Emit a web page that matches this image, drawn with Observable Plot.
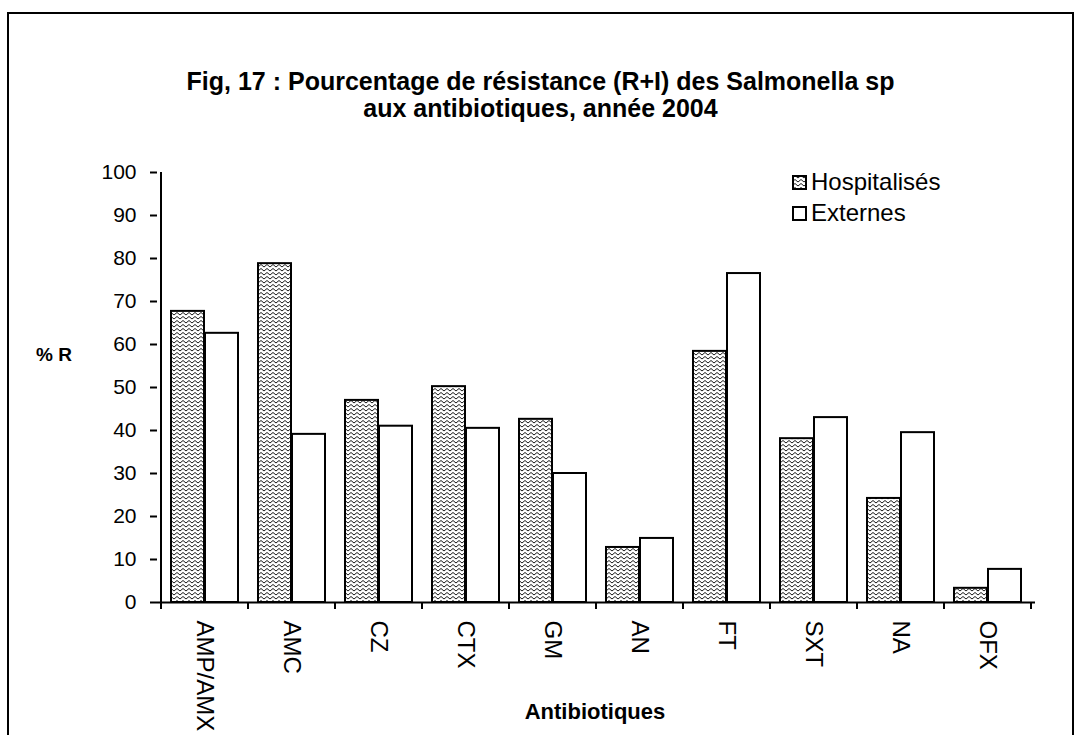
<!DOCTYPE html>
<html><head><meta charset="utf-8">
<script src="https://cdn.jsdelivr.net/npm/d3@7"></script>
<script src="https://cdn.jsdelivr.net/npm/@observablehq/plot@0.6"></script>
<style>
body{margin:0;background:#fff;font-family:"Liberation Sans",Arial,sans-serif;color:#000;}
#wrap{position:relative;width:1081px;height:735px;overflow:hidden;background:#fff;}
#border{position:absolute;left:7px;top:12px;width:1067px;height:760px;border:2px solid #000;box-sizing:border-box;}
#title{position:absolute;left:0;width:1081px;top:68px;text-align:center;font-weight:bold;font-size:25px;line-height:27px;}
#chart{position:absolute;left:0;top:0;}
#ylab{position:absolute;left:36px;top:342px;font-weight:bold;font-size:19px;line-height:26px;}
#xlab{position:absolute;left:0;width:1190px;text-align:center;top:698px;font-weight:bold;font-size:22px;line-height:28px;}
.leg{position:absolute;left:792px;font-size:24px;line-height:28px;height:28px;display:flex;align-items:center;}
.leg svg{margin-right:4px;}
</style></head>
<body>
<svg width="0" height="0" style="position:absolute">
  <defs>
    <pattern id="zig" patternUnits="userSpaceOnUse" width="6" height="4">
      <rect width="6" height="4" fill="#fff"/>
      <path d="M0,3 L3,0.5 L6,3" fill="none" stroke="#000" stroke-width="0.9"/>
    </pattern>
  </defs>
</svg>
<div id="wrap">
  <div id="border"></div>
  <div id="title">Fig, 17 : Pourcentage de résistance (R+I) des Salmonella sp<br>aux antibiotiques, année 2004</div>
  <div id="chart"></div>
  <div id="ylab">% R</div>
  <div id="xlab">Antibiotiques</div>
  <div class="leg" style="top:168px"><svg width="15" height="15"><rect x="1" y="1" width="13" height="13" fill="url(#zig)" stroke="#000" stroke-width="2"/></svg>Hospitalisés</div>
  <div class="leg" style="top:199px"><svg width="15" height="15"><rect x="1" y="1" width="13" height="13" fill="#fff" stroke="#000" stroke-width="2"/></svg>Externes</div>
</div>
<script>
const categories = ["AMP/AMX","AMC","CZ","CTX","GM","AN","FT","SXT","NA","OFX"];
const hospitalises = [67.7, 78.8, 47.0, 50.2, 42.6, 12.8, 58.4, 38.1, 24.2, 3.3];
const externes = [62.6, 39.1, 41.0, 40.5, 30.0, 14.9, 76.5, 43.0, 39.5, 7.7];
const yTicks = [0,10,20,30,40,50,60,70,80,90,100];

const dataH = categories.map((c,i)=>({cat:c, v:hospitalises[i]}));
const dataE = categories.map((c,i)=>({cat:c, v:externes[i]}));

const plot = Plot.plot({
  width: 1081, height: 735,
  marginTop: 172, marginBottom: 133, marginLeft: 157, marginRight: 46,
  style: {fontFamily: '"Liberation Sans", Arial, sans-serif', fontSize: "21px", background: "transparent", color: "#000"},
  x: {domain: categories, padding: 0, label: null},
  y: {domain: [0,100], label: null},
  marks: [
    Plot.barY(dataH, {x:"cat", y:"v", fill:"url(#zig)", stroke:"#000", strokeWidth:2, insetLeft:10, insetRight:44}),
    Plot.barY(dataE, {x:"cat", y:"v", fill:"#fff", stroke:"#000", strokeWidth:2, insetLeft:44, insetRight:10}),
    Plot.ruleY([0], {stroke:"#000", strokeWidth:2}),
    Plot.axisY({ticks: yTicks, tickSize: 7, tickPadding: 14, fontSize: 21, strokeWidth: 2, label: null}),
    Plot.axisX({tickSize: 0, tickRotate: 90, tickPadding: 18, fontSize: 24, label: null})
  ]
});
document.getElementById("chart").appendChild(plot);

// y axis line and category boundary ticks, from the plot's scales
const xs = plot.scale("x"), ys = plot.scale("y");
const svg = d3.select(plot);
const y0 = ys.apply(0), y100 = ys.apply(100);
const bounds = categories.map(c => xs.apply(c));
bounds.push(xs.apply(categories[categories.length-1]) + xs.bandwidth);
const g = svg.append("g").attr("stroke","#000").attr("stroke-width",2);
g.append("line").attr("x1",bounds[0]).attr("x2",bounds[0]).attr("y1",y0+1).attr("y2",y100);
g.selectAll("line.b").data(bounds).join("line").attr("class","b")
  .attr("x1",d=>d).attr("x2",d=>d).attr("y1",y0).attr("y2",y0+7);
</script>
</body></html>
